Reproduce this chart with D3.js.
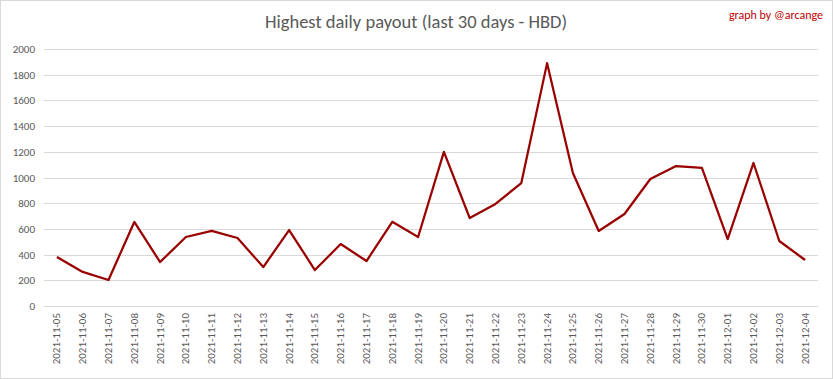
<!DOCTYPE html>
<html><head><meta charset="utf-8">
<script src="https://cdn.jsdelivr.net/npm/d3@7"></script>
<style>body{margin:0;background:#fff}svg{display:block}</style>
</head><body>
<script>
const dates = ["2021-11-05","2021-11-06","2021-11-07","2021-11-08","2021-11-09","2021-11-10","2021-11-11","2021-11-12","2021-11-13","2021-11-14","2021-11-15","2021-11-16","2021-11-17","2021-11-18","2021-11-19","2021-11-20","2021-11-21","2021-11-22","2021-11-23","2021-11-24","2021-11-25","2021-11-26","2021-11-27","2021-11-28","2021-11-29","2021-11-30","2021-12-01","2021-12-02","2021-12-03","2021-12-04"];
const payouts = [381,265,202,654,342,537,584,529,303,591,280,482,350,655,537,1200,685,794,957,1890,1035,584,716,988,1089,1074,521,1113,506,358];
const yTicks = [0,200,400,600,800,1000,1200,1400,1600,1800,2000];
const title = "Highest daily payout (last 30 days - HBD)";
const credit = "graph by @arcange";

const W = 833, H = 379;
const m = {left:44, right:15, top:49, bottom:73};
const font = "Calibri, Carlito, Lato, 'Open Sans', sans-serif";
const svg = d3.select("body").append("svg").attr("width", W).attr("height", H);
svg.append("rect").attr("x",0.5).attr("y",0.5).attr("width",W-1).attr("height",H-1)
  .attr("fill","#fff").attr("stroke","#d9d9d9");

const x = d3.scaleBand().domain(dates).range([m.left, W-m.right]);
const y = d3.scaleLinear().domain([0,2000]).range([H-m.bottom, m.top]);

svg.append("g").selectAll("line").data(yTicks).join("line")
  .attr("x1", m.left).attr("x2", W-m.right)
  .attr("y1", d=>Math.round(y(d))+0.5).attr("y2", d=>Math.round(y(d))+0.5)
  .attr("stroke","#d9d9d9").attr("stroke-width",1);

const ya = svg.append("g").attr("transform",`translate(${m.left-9},0)`)
  .call(d3.axisLeft(y).tickValues(yTicks).tickFormat(d3.format("d")).tickSize(0).tickPadding(0));
ya.select(".domain").remove();
ya.selectAll("text").attr("fill","#595959").style("font-family",font).style("font-size","11px");

const xa = svg.append("g").attr("transform",`translate(0,${H-m.bottom})`)
  .call(d3.axisBottom(x).tickSize(0).tickPadding(0));
xa.select(".domain").remove();
xa.selectAll("text").attr("fill","#595959").style("font-family",font).style("font-size","11px")
  .attr("text-anchor","end").attr("dy","0.32em")
  .attr("transform","translate(0,7) rotate(-90)");

const line = d3.line().x((d,i)=>x(dates[i])+x.bandwidth()/2).y(d=>y(d));
svg.append("path").datum(payouts).attr("d",line).attr("fill","none")
  .attr("stroke","#990000").attr("stroke-width",2.25).attr("stroke-linejoin","round");

svg.append("text").attr("x",416).attr("y",28).attr("text-anchor","middle")
  .attr("fill","#595959").style("font-family",font).style("font-size","18.5px").text(title);
svg.append("text").attr("x",823).attr("y",19).attr("text-anchor","end")
  .attr("fill","#c00000").style("font-family",font).style("font-size","12px").text(credit);
</script>
</body></html>
